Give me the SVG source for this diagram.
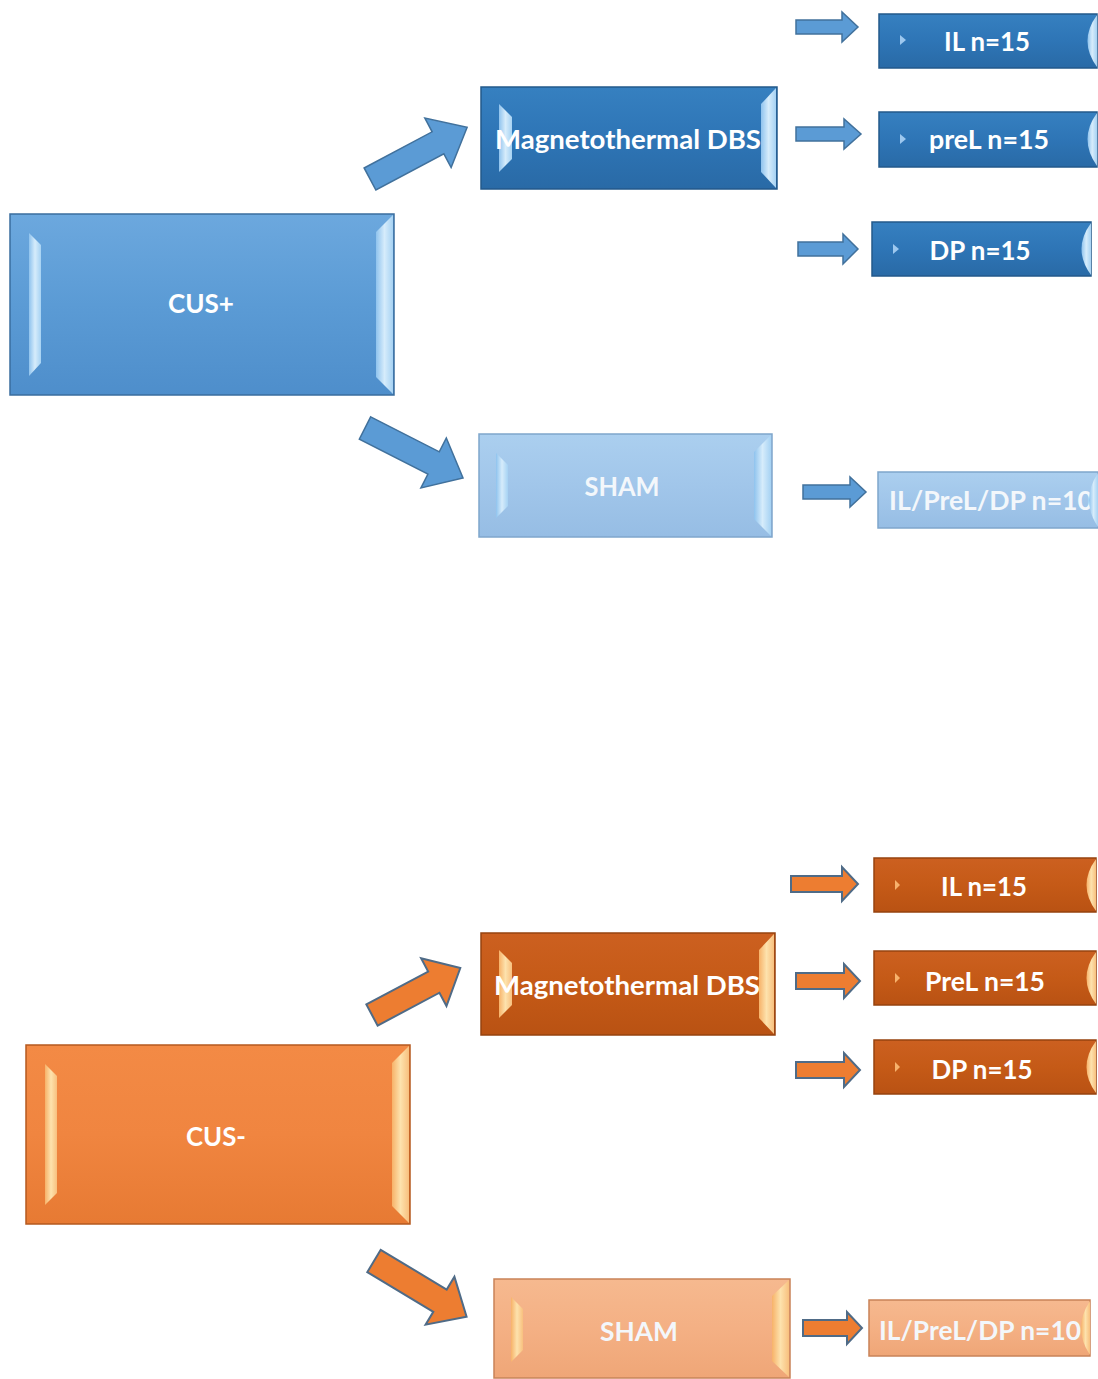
<svg xmlns="http://www.w3.org/2000/svg" width="1098" height="1379" viewBox="0 0 1098 1379">
<defs>
<linearGradient id="gBlueMain" x1="0" y1="0" x2="0" y2="1"><stop offset="0" stop-color="#6ca8de"/><stop offset="0.5" stop-color="#5b9bd5"/><stop offset="1" stop-color="#4e8ecb"/></linearGradient>
<linearGradient id="gBlueDark" x1="0" y1="0" x2="0" y2="1"><stop offset="0" stop-color="#3680c0"/><stop offset="0.5" stop-color="#2e75b6"/><stop offset="1" stop-color="#296aa6"/></linearGradient>
<linearGradient id="gBlueLight" x1="0" y1="0" x2="0" y2="1"><stop offset="0" stop-color="#abcfef"/><stop offset="0.5" stop-color="#a1c6ea"/><stop offset="1" stop-color="#96bde4"/></linearGradient>
<linearGradient id="gOrMain" x1="0" y1="0" x2="0" y2="1"><stop offset="0" stop-color="#f38a45"/><stop offset="0.5" stop-color="#f08540"/><stop offset="1" stop-color="#e77a33"/></linearGradient>
<linearGradient id="gOrDark" x1="0" y1="0" x2="0" y2="1"><stop offset="0" stop-color="#cc6020"/><stop offset="0.5" stop-color="#c55a17"/><stop offset="1" stop-color="#b95213"/></linearGradient>
<linearGradient id="gOrLight" x1="0" y1="0" x2="0" y2="1"><stop offset="0" stop-color="#f6b98f"/><stop offset="0.5" stop-color="#f4b084"/><stop offset="1" stop-color="#efa677"/></linearGradient>
<linearGradient id="hiB" x1="0" y1="0" x2="1" y2="0"><stop offset="0" stop-color="#8fc3ee"/><stop offset="0.5" stop-color="#d6ecfb"/><stop offset="1" stop-color="#a6d2f3"/></linearGradient>
<linearGradient id="hiO" x1="0" y1="0" x2="1" y2="0"><stop offset="0" stop-color="#f7b269"/><stop offset="0.5" stop-color="#fde2ad"/><stop offset="1" stop-color="#f8c07e"/></linearGradient>
</defs>
<style>
.bm{fill:url(#gBlueMain);stroke:#3a6d9e;stroke-width:1.5}
.bd{fill:url(#gBlueDark);stroke:#23598b;stroke-width:1.5}
.bl{fill:url(#gBlueLight);stroke:#7fa6cc;stroke-width:1.5}
.om{fill:url(#gOrMain);stroke:#b55a1f;stroke-width:1.5}
.od{fill:url(#gOrDark);stroke:#96430f;stroke-width:1.5}
.ol{fill:url(#gOrLight);stroke:#c98358;stroke-width:1.5}
.hb{fill:url(#hiB)}
.ho{fill:url(#hiO)}
.mb{fill:#9dc8ef}
.mo{fill:#f7b26c}
.t{font-family:Lato,"Open Sans","Liberation Sans",sans-serif;font-size:27px;font-weight:bold;fill:#ffffff;text-anchor:middle;lengthAdjust:spacingAndGlyphs}
.tl{fill:#f3f7fb}
.arB{fill:#5b9bd5;stroke:#41719c;stroke-width:1.5;stroke-linejoin:miter}
.arO{fill:#ed7d31;stroke:#4f6b87;stroke-width:2;stroke-linejoin:miter}
</style>
<rect width="1098" height="1379" fill="#ffffff"/>

<g id="connectors">
<path class="arB" transform="translate(370,179) rotate(-28)" d="M0,-12.5 L77,-12.5 L77,-28 L110,0 L77,28 L77,12.5 L0,12.5 Z"/>
<path class="arB" transform="translate(365,428) rotate(27)" d="M0,-12.5 L77,-12.5 L77,-28 L110,0 L77,28 L77,12.5 L0,12.5 Z"/>
<path class="arB" transform="translate(796,27)" d="M0,-7 L46,-7 L46,-15 L62,0 L46,15 L46,7 L0,7 Z"/>
<path class="arB" transform="translate(796,134)" d="M0,-7 L48,-7 L48,-15 L65,0 L48,15 L48,7 L0,7 Z"/>
<path class="arB" transform="translate(798,249)" d="M0,-7 L45,-7 L45,-15 L60,0 L45,15 L45,7 L0,7 Z"/>
<path class="arB" transform="translate(803,492)" d="M0,-7 L47,-7 L47,-15 L63,0 L47,15 L47,7 L0,7 Z"/>
<path class="arO" transform="translate(372,1015) rotate(-28)" d="M0,-12 L70,-12 L70,-27 L100,0 L70,27 L70,12 L0,12 Z"/>
<path class="arO" transform="translate(374,1261) rotate(31)" d="M0,-13 L77,-13 L77,-28 L108,0 L77,28 L77,13 L0,13 Z"/>
<path class="arO" transform="translate(791,884)" d="M0,-8 L51,-8 L51,-17 L67,0 L51,17 L51,8 L0,8 Z"/>
<path class="arO" transform="translate(796,981)" d="M0,-8 L48,-8 L48,-17 L64,0 L48,17 L48,8 L0,8 Z"/>
<path class="arO" transform="translate(796,1070)" d="M0,-8 L48,-8 L48,-17 L64,0 L48,17 L48,8 L0,8 Z"/>
<path class="arO" transform="translate(803,1328)" d="M0,-8 L44,-8 L44,-16 L59,0 L44,16 L44,8 L0,8 Z"/>
</g>

<g id="cus-plus">
<rect class="bm" x="10" y="214" width="384" height="181"/>
<polygon class="hb" points="29,233 41,245 41,363 29,376"/>
<polygon class="hb" points="393,215 393,394 376,377 376,232"/>
<text class="t" x="201" y="313" textLength="66" lengthAdjust="spacingAndGlyphs">CUS+</text>
</g>

<g id="dbs-blue">
<rect class="bd" x="481" y="87" width="296" height="102"/>
<polygon class="hb" points="499,104 512,117 512,159 499,172"/>
<polygon class="hb" points="776,88 776,188 761,172 761,104"/>
<text class="t" x="628" y="149" font-size="28" textLength="266" lengthAdjust="spacingAndGlyphs">Magnetothermal DBS</text>
</g>

<g id="il-blue">
<rect class="bd" x="879" y="14" width="218" height="54"/>
<polygon class="mb" points="900,35 906,40 900,45"/>
<text class="t" x="987" y="51" textLength="86" lengthAdjust="spacingAndGlyphs">IL n=15</text>
<path class="hb" d="M1097,15 Q1078,41 1097,67 Z"/>
</g>

<g id="prel-blue">
<rect class="bd" x="879" y="112" width="218" height="55"/>
<polygon class="mb" points="900,134 906,139 900,144"/>
<text class="t" x="989" y="149" textLength="120" lengthAdjust="spacingAndGlyphs">preL n=15</text>
<path class="hb" d="M1097,113 Q1078,139 1097,166 Z"/>
</g>

<g id="dp-blue">
<rect class="bd" x="872" y="222" width="219" height="54"/>
<polygon class="mb" points="893,244 899,249 893,254"/>
<text class="t" x="980" y="260" textLength="101" lengthAdjust="spacingAndGlyphs">DP n=15</text>
<path class="hb" d="M1091,223 Q1072,249 1091,275 Z"/>
</g>

<g id="sham-blue">
<rect class="bl" x="479" y="434" width="293" height="103"/>
<polygon class="hb" points="496,453 508,465 508,506 496,518"/>
<polygon class="hb" points="771,435 771,536 754,519 754,452"/>
<text class="t tl" x="622" y="496" textLength="75" lengthAdjust="spacingAndGlyphs">SHAM</text>
</g>

<g id="n10-blue">
<rect class="bl" x="878" y="472" width="220" height="56"/>
<text class="t tl" x="889" y="510" style="text-anchor:start" textLength="204" lengthAdjust="spacingAndGlyphs">IL/PreL/DP n=10</text>
<path class="hb" d="M1098,473 Q1080,500 1098,527 Z"/>
</g>

<g id="cus-minus">
<rect class="om" x="26" y="1045" width="384" height="179"/>
<polygon class="ho" points="45,1064 57,1076 57,1193 45,1205"/>
<polygon class="ho" points="409,1046 409,1223 392,1206 392,1063"/>
<text class="t" x="216" y="1146" textLength="60" lengthAdjust="spacingAndGlyphs">CUS-</text>
</g>

<g id="dbs-orange">
<rect class="od" x="481" y="933" width="294" height="102"/>
<polygon class="ho" points="499,950 512,963 512,1005 499,1018"/>
<polygon class="ho" points="774,934 774,1034 759,1018 759,950"/>
<text class="t" x="627" y="995" font-size="28" textLength="266" lengthAdjust="spacingAndGlyphs">Magnetothermal DBS</text>
</g>

<g id="il-orange">
<rect class="od" x="874" y="858" width="222" height="54"/>
<polygon class="mo" points="895,880 900,885 895,890"/>
<text class="t" x="984" y="896" textLength="86" lengthAdjust="spacingAndGlyphs">IL n=15</text>
<path class="ho" d="M1096,859 Q1077,885 1096,911 Z"/>
</g>

<g id="prel-orange">
<rect class="od" x="874" y="951" width="222" height="54"/>
<polygon class="mo" points="895,973 900,978 895,983"/>
<text class="t" x="985" y="991" textLength="120" lengthAdjust="spacingAndGlyphs">PreL n=15</text>
<path class="ho" d="M1096,952 Q1077,978 1096,1004 Z"/>
</g>

<g id="dp-orange">
<rect class="od" x="874" y="1040" width="222" height="54"/>
<polygon class="mo" points="895,1062 900,1067 895,1072"/>
<text class="t" x="982" y="1079" textLength="101" lengthAdjust="spacingAndGlyphs">DP n=15</text>
<path class="ho" d="M1096,1041 Q1077,1067 1096,1093 Z"/>
</g>

<g id="sham-orange">
<rect class="ol" x="494" y="1279" width="296" height="99"/>
<polygon class="ho" points="511,1297 523,1309 523,1350 511,1362"/>
<polygon class="ho" points="789,1280 789,1377 772,1361 772,1296"/>
<text class="t tl" x="639" y="1341" textLength="78" lengthAdjust="spacingAndGlyphs">SHAM</text>
</g>

<g id="n10-orange">
<rect class="ol" x="869" y="1300" width="221" height="56"/>
<text class="t tl" x="879" y="1340" style="text-anchor:start" textLength="202" lengthAdjust="spacingAndGlyphs">IL/PreL/DP n=10</text>
<path class="ho" d="M1090,1301 Q1072,1328 1090,1355 Z"/>
</g>
</svg>
